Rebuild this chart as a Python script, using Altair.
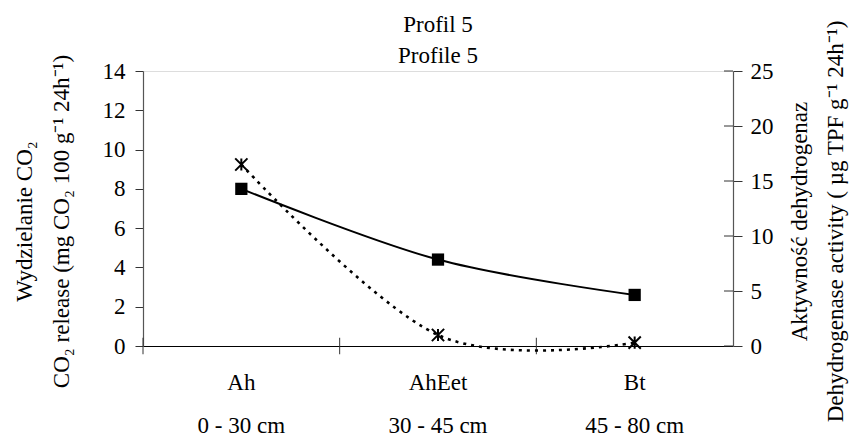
import altair as alt
import pandas as pd

# Soil horizons of profile 5 with their depth ranges
horizons = ["Ah", "AhEet", "Bt"]
depths = ["0 - 30 cm", "30 - 45 cm", "45 - 80 cm"]

# CO2 release, mg CO2 100 g^-1 24h^-1 (left axis)
co2_release = [8.0, 4.4, 2.6]
# Dehydrogenase activity, µg TPF g^-1 24h^-1 (right axis)
dehydrogenase = [16.5, 1.0, 0.3]

left_ticks = [0, 2, 4, 6, 8, 10, 12, 14]
right_ticks = [0, 5, 10, 15, 20, 25]
title_lines = ["Profil 5", "Profile 5"]

df = pd.DataFrame({
    "horizon": horizons,
    "depth": depths,
    "co2": co2_release,
    "dh": dehydrogenase,
})
right_df = pd.DataFrame({"v": right_ticks})
one_row = pd.DataFrame({"k": [0]})

FONT = "'Liberation Serif', 'Times New Roman', Times, serif"
FS = 23
W, H = 590, 275

x_scale = alt.Scale(type="band", domain=horizons, paddingInner=0, paddingOuter=0)
x_axis = alt.Axis(
    title=None, ticks=False, labelAngle=0, labelFont=FONT, labelFontSize=FS,
    labelColor="black", labelPadding=25, domainColor="black", domainWidth=1.2,
    grid=False,
)
x_mid = alt.X("horizon:N", scale=x_scale, axis=x_axis, bandPosition=0.5)
x_edge = alt.X("horizon:N", scale=x_scale, axis=x_axis, bandPosition=0)

left_y = alt.Scale(domain=[0, 14], nice=False, zero=True)
left_axis = alt.Axis(
    values=left_ticks, orient="left", grid=False, labelOverlap=False,
    labelFlush=False,
    title=["Wydzielanie CO₂", "CO₂ release (mg CO₂ 100 g⁻¹ 24h⁻¹)"],
    titleFont=FONT, titleFontSize=FS, titleFontWeight="normal", titleColor="black",
    titleLineHeight=37, titleAngle=-90, titleAlign="center",
    titleBaseline="alphabetic", titleX=-112, titleY=150,
    labelFont=FONT, labelFontSize=FS, labelColor="black", labelPadding=10,
    tickSize=8, tickColor="#333333", domainColor="#555555", domainWidth=1.2,
)

right_y = alt.Scale(domain=[0, 25], nice=False, zero=True)
right_axis = alt.Axis(
    values=right_ticks, orient="right", grid=False, labelOverlap=False,
    labelFlush=False,
    title=["Aktywność dehydrogenaz", "Dehydrogenase activity ( µg TPF g⁻¹ 24h⁻¹)"],
    titleAngle=-90, titleFont=FONT, titleFontSize=FS, titleFontWeight="normal",
    titleColor="black", titleLineHeight=36, titleAlign="center",
    titleBaseline="alphabetic", titleX=73, titleY=150,
    labelFont=FONT, labelFontSize=FS, labelColor="black", labelPadding=8,
    tickSize=9, tickColor="#333333", domainColor="#555555", domainWidth=1.2,
)

base = alt.Chart(df)

# CO2 release: solid smoothed line with square markers
co2_line = base.mark_line(
    interpolate="cardinal", tension=0, color="black", strokeWidth=2
).encode(x=x_mid, y=alt.Y("co2:Q", scale=left_y, axis=left_axis))
co2_pts = base.mark_point(
    shape="square", size=150, filled=True, color="black", opacity=1
).encode(x=x_mid, y=alt.Y("co2:Q", scale=left_y, axis=left_axis))

# Category separator ticks crossing the x axis
sep_ticks = base.mark_rule(color="#333333", strokeWidth=1).encode(
    x=x_edge,
    y=alt.datum(-0.42, scale=left_y, axis=left_axis),
    y2=alt.datum(0.42),
)

# Depth ranges printed under the horizon names
depth_text = base.mark_text(
    font=FONT, fontSize=FS, color="black", baseline="alphabetic"
).encode(x=x_mid, y=alt.value(H + 87), text="depth:N")

# Two-line chart heading
heading = alt.Chart(one_row).mark_text(
    text=title_lines, font=FONT, fontSize=FS, color="black",
    baseline="alphabetic", align="center", lineHeight=31,
).encode(x=alt.value(W / 2), y=alt.value(-39))

left_layer = alt.layer(co2_line, co2_pts, sep_ticks, depth_text, heading)

# Dehydrogenase activity: dotted smoothed line with asterisk markers
dh_line = base.mark_line(
    interpolate="cardinal", tension=0, color="black", strokeWidth=2.6,
    strokeDash=[3, 5],
).encode(x=x_mid, y=alt.Y("dh:Q", scale=right_y, axis=right_axis))
dh_pts = base.mark_point(
    shape="M-1,-1L1,1M-1,1L1,-1M0,-1L0,1", size=150, filled=False,
    color="black", strokeWidth=2, opacity=1,
).encode(x=x_mid, y=alt.Y("dh:Q", scale=right_y, axis=right_axis))

# Inner half of the right axis ticks
right_inner = alt.Chart(right_df).mark_rule(color="#333333", strokeWidth=1).encode(
    x=alt.value(W - 9), x2=alt.value(W),
    y=alt.Y("v:Q", scale=right_y, axis=right_axis),
)

right_layer = alt.layer(dh_line, dh_pts, right_inner)

chart = (
    alt.layer(left_layer, right_layer)
    .resolve_scale(y="independent")
    .properties(
        width=W,
        height=H,
        autosize=alt.AutoSizeParams(type="none"),
        padding={"left": 143, "top": 71, "right": 124, "bottom": 97},
    )
    .configure_view(stroke=None)
    .configure(background="white")
)

chart.save("out.html", embed_options={"renderer": "svg", "actions": False})
